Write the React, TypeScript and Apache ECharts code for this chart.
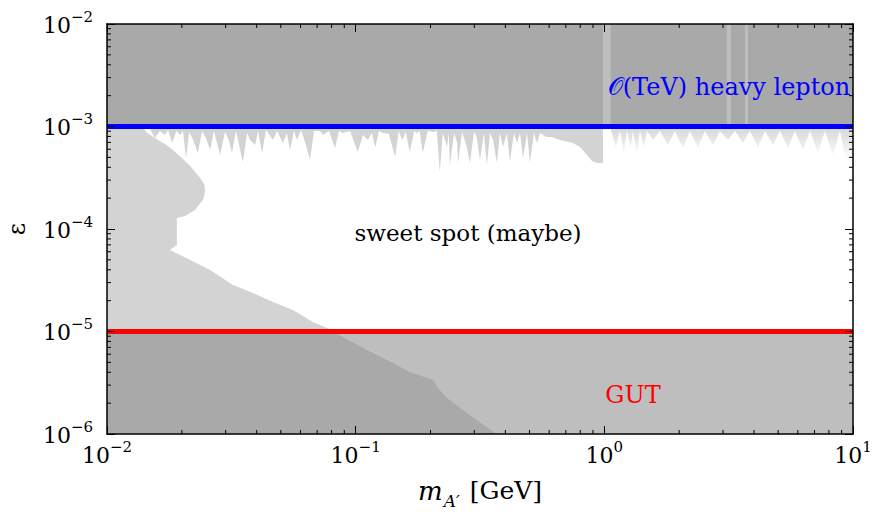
import React, { useEffect, useRef } from "react";
import * as echarts from "echarts";

const SERIF = "'DejaVu Serif', 'Liberation Serif', serif";

const X_RANGE = [0.01, 10];
const Y_RANGE = [1e-6, 1e-2];

const xMajorTicks = [0.01, 0.1, 1, 10];
const xTickExponents = ["−2", "−1", "0", "1"];
const yMajorTicks = [1e-6, 1e-5, 1e-4, 1e-3, 1e-2];
const yTickExponents = ["−6", "−5", "−4", "−3", "−2"];

const xMinorTicks = [
  0.02, 0.03, 0.04, 0.05, 0.06, 0.07, 0.08, 0.09,
  0.2, 0.3, 0.4, 0.5, 0.6, 0.7, 0.8, 0.9,
  2, 3, 4, 5, 6, 7, 8, 9,
];
const yMinorTicks = [
  2e-6, 3e-6, 4e-6, 5e-6, 6e-6, 7e-6, 8e-6, 9e-6,
  2e-5, 3e-5, 4e-5, 5e-5, 6e-5, 7e-5, 8e-5, 9e-5,
  2e-4, 3e-4, 4e-4, 5e-4, 6e-4, 7e-4, 8e-4, 9e-4,
  2e-3, 3e-3, 4e-3, 5e-3, 6e-3, 7e-3, 8e-3, 9e-3,
];

// reference lines
const heavyLeptonEps = 1e-3;
const gutEps = 1e-5;

// lower-left excluded region: diagonal edge (from the bottom up) and the bulge
const leftEdge: number[][] = [
  [0.37, 1.0e-6], [0.357, 1.05e-6], [0.28, 1.6e-6], [0.233, 2.24e-6], [0.214, 2.81e-6],
  [0.205, 3.36e-6], [0.165, 4.03e-6], [0.141, 4.93e-6], [0.111, 6.61e-6], [0.0889, 8.84e-6],
  [0.0767, 1.08e-5], [0.0673, 1.24e-5], [0.056, 1.62e-5], [0.0465, 1.94e-5], [0.0386, 2.37e-5],
  [0.0321, 2.84e-5], [0.026, 3.98e-5], [0.0197, 5.58e-5], [0.0179, 6.24e-5], [0.0191, 6.98e-5],
  [0.0191, 1.28e-4], [0.0206, 1.34e-4], [0.0226, 1.53e-4], [0.0234, 1.71e-4], [0.0243, 1.92e-4],
  [0.0246, 2.1e-4], [0.0248, 2.4e-4], [0.0246, 2.75e-4], [0.0237, 3.14e-4], [0.0226, 3.6e-4],
  [0.0216, 4.12e-4], [0.0202, 4.82e-4], [0.0188, 5.64e-4], [0.0176, 6.45e-4], [0.0163, 7.22e-4],
  [0.0145, 8.64e-4], [0.014, 9.6e-4],
];

// spiky lower edge of the excluded band just below 1e-3 (m < 1 GeV)
const spikyEdge: number[][] = [
  [0.0149, 9.45e-4], [0.0156, 7.72e-4], [0.0163, 9.04e-4], [0.0171, 8.26e-4], [0.0176, 9.24e-4],
  [0.0183, 6.9e-4], [0.019, 9.04e-4], [0.0197, 8.26e-4], [0.0202, 9.04e-4], [0.0208, 4.93e-4],
  [0.0214, 8.84e-4], [0.0222, 7.38e-4], [0.0232, 5.51e-4], [0.0241, 9.04e-4], [0.025, 7.72e-4],
  [0.026, 5.9e-4], [0.0269, 9.04e-4], [0.0285, 5.27e-4], [0.0298, 8.84e-4], [0.0309, 7.38e-4],
  [0.0318, 5.51e-4], [0.033, 9.04e-4], [0.0352, 4.5e-4], [0.0366, 8.64e-4], [0.0376, 7.38e-4],
  [0.0394, 6.6e-4], [0.0405, 9.04e-4], [0.042, 5.51e-4], [0.0436, 9.24e-4], [0.0465, 7.38e-4],
  [0.0483, 9.04e-4], [0.051, 6.9e-4], [0.0529, 8.64e-4], [0.0544, 5.9e-4], [0.0565, 9.04e-4],
  [0.0581, 7.38e-4], [0.0603, 9.24e-4], [0.0631, 6.6e-4], [0.0655, 4.71e-4], [0.068, 9.04e-4],
  [0.0719, 9.04e-4], [0.0739, 8.26e-4], [0.0781, 9.04e-4], [0.0826, 6.17e-4], [0.0857, 9.04e-4],
  [0.0889, 8.64e-4], [0.0949, 9.04e-4], [0.102, 5.64e-4], [0.107, 8.26e-4], [0.112, 7.38e-4],
  [0.116, 8.64e-4], [0.12, 6.31e-4], [0.124, 9.04e-4], [0.129, 8.64e-4], [0.136, 8.45e-4],
  [0.144, 5.04e-4], [0.149, 9.04e-4], [0.154, 7.38e-4], [0.159, 8.84e-4], [0.165, 5.64e-4],
  [0.172, 9.04e-4], [0.176, 8.64e-4], [0.181, 9.04e-4], [0.186, 5.51e-4], [0.195, 9.04e-4],
  [0.205, 8.84e-4], [0.212, 9.04e-4], [0.218, 3.6e-4], [0.224, 8.64e-4], [0.233, 6.31e-4],
  [0.237, 8.64e-4], [0.239, 4.21e-4], [0.249, 8.64e-4], [0.256, 6.9e-4], [0.258, 4.4e-4],
  [0.268, 8.84e-4], [0.28, 6.31e-4], [0.288, 4.4e-4], [0.299, 8.84e-4], [0.307, 7.9e-4],
  [0.316, 4.71e-4], [0.328, 8.64e-4], [0.337, 4.21e-4], [0.347, 8.64e-4], [0.357, 7.38e-4],
  [0.37, 4.4e-4], [0.38, 8.64e-4], [0.391, 6.31e-4], [0.406, 8.64e-4], [0.417, 4.5e-4],
  [0.433, 8.64e-4], [0.445, 6.9e-4], [0.458, 8.64e-4], [0.471, 4.93e-4], [0.489, 8.64e-4],
  [0.502, 4.4e-4], [0.521, 8.64e-4], [0.536, 6.9e-4], [0.551, 8.64e-4], [0.588, 7.9e-4],
  [0.616, 7.9e-4], [0.663, 7.38e-4], [0.748, 6.9e-4], [0.798, 6.31e-4], [0.851, 5.27e-4],
  [0.892, 4.61e-4], [0.934, 4.4e-4], [0.987, 4.4e-4],
];

// faint spiky band for m > 1 GeV
const rightBandEdge: number[][] = [
  [1.06, 9.45e-4], [1.113, 6.31e-4], [1.155, 9.04e-4], [1.199, 5.51e-4], [1.233, 9.04e-4],
  [1.279, 6.31e-4], [1.303, 9.04e-4], [1.352, 5.64e-4], [1.391, 9.04e-4], [1.443, 6.31e-4],
  [1.484, 9.04e-4], [1.569, 7.38e-4], [1.673, 9.04e-4], [1.802, 6.6e-4], [1.922, 9.04e-4],
  [2.07, 6.17e-4], [2.209, 9.04e-4], [2.379, 6.31e-4], [2.538, 9.04e-4], [2.734, 6.6e-4],
  [2.916, 9.04e-4], [3.141, 7.38e-4], [3.351, 9.04e-4], [3.609, 6.9e-4], [3.85, 9.04e-4],
  [4.147, 6.31e-4], [4.424, 9.04e-4], [4.764, 6.6e-4], [5.083, 9.04e-4], [5.474, 6.17e-4],
  [5.84, 9.04e-4], [6.29, 5.9e-4], [6.71, 9.04e-4], [7.226, 5.51e-4], [7.709, 9.04e-4],
  [8.302, 5.27e-4], [8.858, 9.04e-4], [9.365, 4.71e-4], [10, 5.04e-4],
];

// excluded region above 1e-3 (gaps near 1, 3.2 and 3.7 GeV)
const upperBandRanges: number[][] = [
  [1.06, 3.11],
  [3.23, 3.68],
  [3.78, 10],
];

const LIGHT = "#d3d3d3";
const OVERLAY = "rgba(130,130,130,0.52)";

function polygonSeries(points: number[][], fill: any, z: number) {
  return {
    type: "custom",
    silent: true,
    z,
    data: [points[0]],
    encode: { x: 0, y: 1 },
    renderItem: (params: any, api: any) => {
      const pts = points.map((p) => api.coord(p));
      return { type: "polygon", shape: { points: pts }, style: { fill } };
    },
  };
}

function tickLabel(v: number, ticks: number[], exps: string[]) {
  let idx = -1;
  ticks.forEach((t, i) => {
    if (Math.abs(Math.log10(t) - Math.log10(v)) < 1e-6) idx = i;
  });
  if (idx < 0) return "";
  return `{b|10}{s|${exps[idx]}}`;
}

const tickRich = {
  b: { fontFamily: SERIF, fontSize: 22, color: "#000", lineHeight: 24, verticalAlign: "bottom" },
  s: { fontFamily: SERIF, fontSize: 15, color: "#000", lineHeight: 16, padding: [0, 0, 12, 0], verticalAlign: "bottom" },
};

export default function App() {
  const ref = useRef<HTMLDivElement>(null);
  useEffect(() => {
    if (!ref.current) return;
    const chart = echarts.init(ref.current, undefined, { renderer: "svg" });

    const mainPolygon = [
      [X_RANGE[0], Y_RANGE[0]],
      ...leftEdge,
      ...spikyEdge,
      [0.987, Y_RANGE[1]],
      [X_RANGE[0], Y_RANGE[1]],
    ];
    const rightBand = [...rightBandEdge, [X_RANGE[1], heavyLeptonEps], [1.06, heavyLeptonEps]];
    const upperPolys = upperBandRanges.map((r) => [
      [r[0], heavyLeptonEps], [r[1], heavyLeptonEps], [r[1], Y_RANGE[1]], [r[0], Y_RANGE[1]],
    ]);
    const topOverlay = [
      [X_RANGE[0], heavyLeptonEps], [X_RANGE[1], heavyLeptonEps], [X_RANGE[1], Y_RANGE[1]], [X_RANGE[0], Y_RANGE[1]],
    ];
    const gutOverlay = [
      [X_RANGE[0], Y_RANGE[0]], [X_RANGE[1], Y_RANGE[0]], [X_RANGE[1], gutEps], [X_RANGE[0], gutEps],
    ];

    const axisCommon = {
      type: "log",
      logBase: 10,
      z: 10,
      axisLine: { show: true, onZero: false, lineStyle: { color: "#000", width: 1.5 } },
      axisTick: { show: true, inside: true, length: 8, lineStyle: { color: "#000", width: 1 } },
      splitLine: { show: false },
      minorTick: { show: false },
    };

    const option: any = {
      animation: false,
      backgroundColor: "#fff",
      grid: { left: 107, right: 19, top: 24, bottom: 78, containLabel: false, outerBoundsMode: "none" },
      xAxis: [
        {
          ...axisCommon,
          min: X_RANGE[0],
          max: X_RANGE[1],
          position: "bottom",
          axisLabel: {
            margin: 8,
            formatter: (v: number) => tickLabel(v, xMajorTicks, xTickExponents),
            rich: tickRich,
          },
          name: "{i|m}{sub|A′}{n| [GeV]}",
          nameLocation: "middle",
          nameGap: 44,
          nameTextStyle: {
            rich: {
              i: { fontFamily: SERIF, fontStyle: "italic", fontSize: 26, color: "#000", lineHeight: 28, verticalAlign: "top" },
              sub: { fontFamily: SERIF, fontStyle: "italic", fontSize: 17, color: "#000", lineHeight: 17, padding: [14, 2, 0, 1], verticalAlign: "top" },
              n: { fontFamily: SERIF, fontSize: 25, color: "#000", lineHeight: 28, verticalAlign: "top" },
            },
          },
        },
        {
          ...axisCommon,
          min: X_RANGE[0],
          max: X_RANGE[1],
          position: "top",
          axisLabel: { show: false },
        },
      ],
      yAxis: [
        {
          ...axisCommon,
          min: Y_RANGE[0],
          max: Y_RANGE[1],
          position: "left",
          axisLabel: {
            margin: 14,
            formatter: (v: number) => tickLabel(v, yMajorTicks, yTickExponents),
            rich: tickRich,
          },
          name: "ε",
          nameLocation: "middle",
          nameRotate: 90,
          nameGap: 78,
          nameTextStyle: { fontFamily: SERIF, fontSize: 24, color: "#000" },
        },
        {
          ...axisCommon,
          min: Y_RANGE[0],
          max: Y_RANGE[1],
          position: "right",
          axisLabel: { show: false },
        },
      ],
      series: [
        polygonSeries(mainPolygon, LIGHT, 1),
        ...upperPolys.map((p) => polygonSeries(p, LIGHT, 1)),
        polygonSeries(
          rightBand,
          new echarts.graphic.LinearGradient(0, 0, 0, 1, [
            { offset: 0, color: "#d6d6d6" },
            { offset: 1, color: "#ffffff" },
          ]),
          1
        ),
        polygonSeries(topOverlay, OVERLAY, 2),
        polygonSeries(gutOverlay, OVERLAY, 2),
        {
          type: "line",
          z: 3,
          silent: true,
          symbol: "none",
          data: [[X_RANGE[0], heavyLeptonEps], [X_RANGE[1], heavyLeptonEps]],
          lineStyle: { color: "#0000ff", width: 5 },
        },
        {
          type: "line",
          z: 3,
          silent: true,
          symbol: "none",
          data: [[X_RANGE[0], gutEps], [X_RANGE[1], gutEps]],
          lineStyle: { color: "#ff0000", width: 5 },
        },
        {
          type: "custom",
          silent: true,
          z: 11,
          data: xMinorTicks.map((v) => [v, Y_RANGE[0]]),
          encode: { x: 0, y: 1 },
          renderItem: (params: any, api: any) => {
            const b = api.coord([api.value(0), Y_RANGE[0]]);
            const t = api.coord([api.value(0), Y_RANGE[1]]);
            return {
              type: "group",
              children: [
                { type: "line", shape: { x1: b[0], y1: b[1], x2: b[0], y2: b[1] - 4 }, style: { stroke: "#000", lineWidth: 1 } },
                { type: "line", shape: { x1: t[0], y1: t[1], x2: t[0], y2: t[1] + 4 }, style: { stroke: "#000", lineWidth: 1 } },
              ],
            };
          },
        },
        {
          type: "custom",
          silent: true,
          z: 11,
          data: yMinorTicks.map((v) => [X_RANGE[0], v]),
          encode: { x: 0, y: 1 },
          renderItem: (params: any, api: any) => {
            const l = api.coord([X_RANGE[0], api.value(1)]);
            const r = api.coord([X_RANGE[1], api.value(1)]);
            return {
              type: "group",
              children: [
                { type: "line", shape: { x1: l[0], y1: l[1], x2: l[0] + 4, y2: l[1] }, style: { stroke: "#000", lineWidth: 1 } },
                { type: "line", shape: { x1: r[0], y1: r[1], x2: r[0] - 4, y2: r[1] }, style: { stroke: "#000", lineWidth: 1 } },
              ],
            };
          },
        },
      ],
      graphic: [
        {
          type: "text",
          z: 20,
          x: 729,
          y: 87,
          style: { text: "𝒪(TeV) heavy lepton", fill: "#0000ff", fontFamily: SERIF, fontSize: 24, align: "center", verticalAlign: "middle" },
        },
        {
          type: "text",
          z: 20,
          x: 468,
          y: 233,
          style: { text: "sweet spot (maybe)", fill: "#000", fontFamily: SERIF, fontSize: 23, align: "center", verticalAlign: "middle" },
        },
        {
          type: "text",
          z: 20,
          x: 633,
          y: 395,
          style: { text: "GUT", fill: "#ff0000", fontFamily: SERIF, fontSize: 24, align: "center", verticalAlign: "middle" },
        },
      ],
    };

    chart.setOption(option);
    return () => chart.dispose();
  }, []);

  return (
    <div
      ref={ref}
      style={{ position: "fixed", left: 0, top: 0, width: 872, height: 512, background: "#fff" }}
    />
  );
}
